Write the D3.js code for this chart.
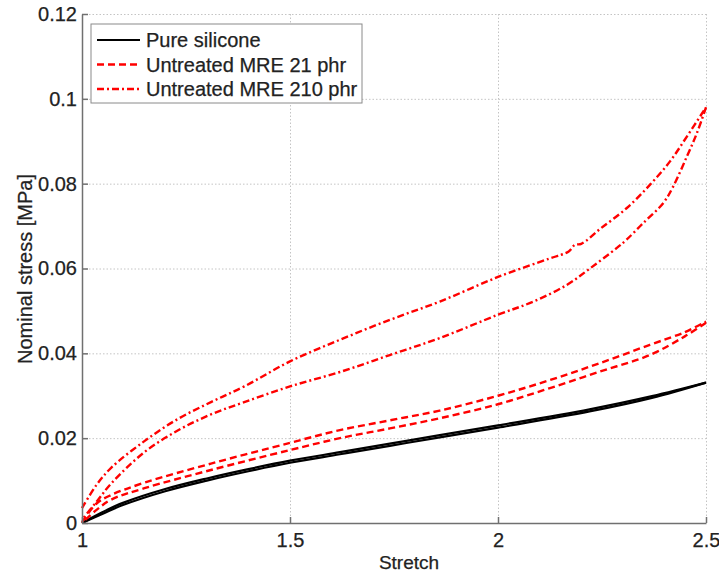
<!DOCTYPE html>
<html>
<head>
<meta charset="utf-8">
<script src="https://cdn.jsdelivr.net/npm/d3@7"></script>
<style>
  html, body { margin: 0; padding: 0; background: #fff; }
  svg { display: block; }
  text { font-family: "Liberation Sans", Arial, sans-serif; fill: #222; stroke: #222; stroke-width: 0.25px; }
</style>
</head>
<body>
<svg id="chart" width="719" height="576"></svg>
<script>
// ---------------- DATA ----------------
const xTicks = [1, 1.5, 2, 2.5];
const xTickLabels = ["1", "1.5", "2", "2.5"];
const yTicks = [0, 0.02, 0.04, 0.06, 0.08, 0.1, 0.12];
const yTickLabels = ["0", "0.02", "0.04", "0.06", "0.08", "0.1", "0.12"];

const seriesNames = ["Pure silicone", "Untreated MRE 21 phr", "Untreated MRE 210 phr"];

// [stretch, nominal stress (MPa)] – loading branch
const siliconeLoading = [
  [1.0, 0], [1.05, 0.0026], [1.1, 0.0048], [1.2, 0.0080], [1.3, 0.0105], [1.4, 0.0127],
  [1.5, 0.0147], [1.62, 0.0167], [1.74, 0.0187], [1.86, 0.0207], [2.0, 0.0230],
  [2.22, 0.0268], [2.37, 0.0299], [2.5, 0.0331]
];
// unloading branch
const siliconeUnloading = [
  [2.5, 0.0331], [2.37, 0.0295], [2.22, 0.0263], [2.0, 0.0225], [1.86, 0.0202],
  [1.74, 0.0182], [1.62, 0.0162], [1.5, 0.0142], [1.4, 0.0122], [1.3, 0.0100],
  [1.2, 0.0075], [1.1, 0.0043], [1.05, 0.0022], [1.0, 0]
];

const mre21Loading = [
  [1.0, 0.0002], [1.035, 0.0046], [1.07, 0.0066], [1.15, 0.0095], [1.31, 0.0140],
  [1.5, 0.0189], [1.62, 0.0219], [1.74, 0.0242], [1.86, 0.0265], [2.0, 0.0300],
  [2.125, 0.0337], [2.245, 0.0377], [2.365, 0.0420], [2.449, 0.0450], [2.5, 0.0475]
];
const mre21Unloading = [
  [2.5, 0.0472], [2.449, 0.0440], [2.365, 0.0396], [2.245, 0.0357], [2.125, 0.0318],
  [2.0, 0.0280], [1.86, 0.0247], [1.74, 0.0223], [1.62, 0.0200], [1.5, 0.0172],
  [1.31, 0.0125], [1.15, 0.0082], [1.07, 0.0055], [1.035, 0.0031], [1.0, 0.0]
];

const mre210Loading = [
  [1.0, 0.0035], [1.035, 0.0090], [1.07, 0.0130], [1.15, 0.0193], [1.23, 0.0245],
  [1.31, 0.0285], [1.39, 0.0322], [1.5, 0.0381], [1.62, 0.0432], [1.74, 0.0479],
  [1.86, 0.0522], [2.0, 0.0580], [2.125, 0.0624], [2.17, 0.0640], [2.185, 0.0656],
  [2.2, 0.0658], [2.245, 0.0693], [2.309, 0.0742], [2.365, 0.0797], [2.413, 0.0852],
  [2.454, 0.0911], [2.5, 0.0980]
];
const mre210Unloading = [
  [2.5, 0.0980], [2.478, 0.0919], [2.454, 0.0864], [2.421, 0.0793], [2.397, 0.0754],
  [2.349, 0.0707], [2.309, 0.0668], [2.285, 0.0648], [2.221, 0.0600], [2.165, 0.0561],
  [2.085, 0.0522], [2.0, 0.0491], [1.86, 0.0436], [1.74, 0.0396], [1.62, 0.0356],
  [1.5, 0.0322], [1.39, 0.0285], [1.31, 0.0256], [1.23, 0.0218], [1.15, 0.0167],
  [1.07, 0.0093], [1.035, 0.0050], [1.0, 0.0008]
];

// ---------------- CHART ----------------
const svg = d3.select("#chart");
const x = d3.scaleLinear().domain([1, 2.5]).range([82, 706]);
const y = d3.scaleLinear().domain([0, 0.12]).range([523, 14]);

const styles = [
  { color: "#000000", dash: null, width: 2.2 },
  { color: "#ff0000", dash: "7,4", width: 2.4 },
  { color: "#ff0000", dash: "7,3,2,3", width: 2.4 }
];

// grid
const gridX = svg.append("g").attr("transform", `translate(0,${y(0)})`)
  .call(d3.axisBottom(x).tickValues(xTicks).tickSize(-(y(0) - y(0.12))).tickFormat(""));
const gridY = svg.append("g").attr("transform", `translate(${x(1)},0)`)
  .call(d3.axisLeft(y).tickValues(yTicks).tickSize(-(x(2.5) - x(1))).tickFormat(""));
[gridX, gridY].forEach(g => {
  g.select(".domain").remove();
  g.selectAll("line").attr("stroke", "#c4c4c4").attr("stroke-width", 1).attr("stroke-dasharray", "1.5,2");
});

// curves
const line = d3.line().x(d => x(d[0])).y(d => y(d[1])).curve(d3.curveCatmullRom.alpha(0.5));
const branches = [
  [siliconeLoading, siliconeUnloading],
  [mre21Loading, mre21Unloading],
  [mre210Loading, mre210Unloading]
];
branches.forEach((pair, i) => {
  pair.forEach(data => {
    svg.append("path")
      .datum(data)
      .attr("d", line)
      .attr("fill", "none")
      .attr("stroke", styles[i].color)
      .attr("stroke-width", styles[i].width)
      .attr("stroke-dasharray", styles[i].dash)
      .attr("stroke-linejoin", "round");
  });
});

// axes
const axisColor = "#707070";
const xAxis = svg.append("g").attr("transform", `translate(0,${y(0)})`)
  .call(d3.axisBottom(x).tickValues(xTicks).tickFormat((d, i) => xTickLabels[i])
    .tickSizeInner(-6).tickSizeOuter(0).tickPadding(10));
const yAxis = svg.append("g").attr("transform", `translate(${x(1)},0)`)
  .call(d3.axisLeft(y).tickValues(yTicks).tickFormat((d, i) => yTickLabels[i])
    .tickSizeInner(-6).tickSizeOuter(0).tickPadding(5));
[xAxis, yAxis].forEach(g => {
  g.select(".domain").attr("stroke", axisColor).attr("stroke-width", 1.5);
  g.selectAll(".tick line").attr("stroke", axisColor).attr("stroke-width", 1.5);
  g.selectAll(".tick text").attr("font-size", 20).attr("fill", "#222")
    .attr("font-family", "Liberation Sans, Arial, sans-serif");
});

// axis titles
svg.append("text")
  .attr("x", 409).attr("y", 569)
  .attr("text-anchor", "middle")
  .attr("font-size", 19)
  .text("Stretch");
svg.append("text")
  .attr("transform", `translate(32,269) rotate(-90)`)
  .attr("text-anchor", "middle")
  .attr("font-size", 20)
  .text("Nominal stress [MPa]");

// legend
const lg = svg.append("g");
lg.append("rect")
  .attr("x", 91).attr("y", 24).attr("width", 271).attr("height", 79)
  .attr("fill", "#fff").attr("stroke", "#8a8a8a").attr("stroke-width", 1);
seriesNames.forEach((name, i) => {
  const yy = 40 + i * 24.5;
  lg.append("line")
    .attr("x1", 97).attr("x2", 140).attr("y1", yy).attr("y2", yy)
    .attr("stroke", styles[i].color).attr("stroke-width", styles[i].width)
    .attr("stroke-dasharray", styles[i].dash);
  lg.append("text")
    .attr("x", 146).attr("y", yy).attr("dy", "0.35em")
    .attr("font-size", 20)
    .text(name);
});
</script>
</body>
</html>
